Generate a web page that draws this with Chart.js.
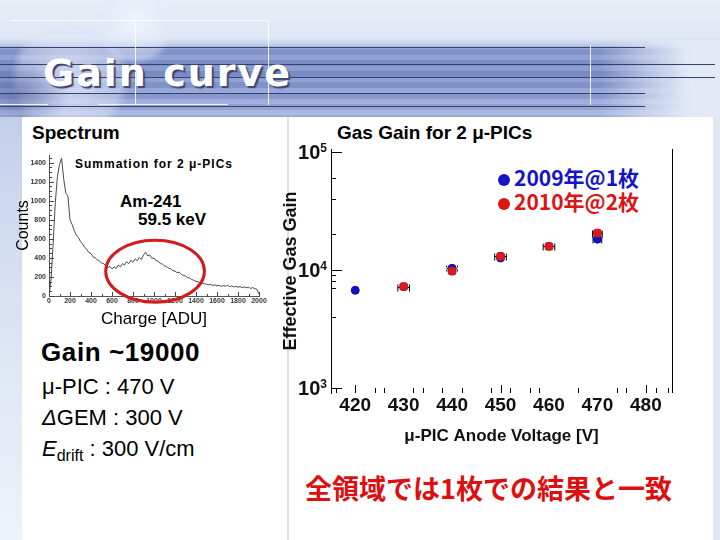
<!DOCTYPE html>
<html><head><meta charset="utf-8">
<script src="https://cdn.jsdelivr.net/npm/chart.js@4.4.1/dist/chart.umd.min.js"></script>
<style>
html,body{margin:0;padding:0;}
body{width:720px;height:540px;overflow:hidden;position:relative;background:#dbe3f3;font-family:'Liberation Sans',Arial,sans-serif;}
.abs{position:absolute;white-space:nowrap;}
.hl{position:absolute;height:1px;background:#33426f;}
.wl{position:absolute;background:rgba(255,255,255,0.85);}
</style></head><body>
<!-- background -->
<div class="abs" style="left:0;top:0;width:720px;height:117px;background:linear-gradient(180deg,#e9eef8 0px,#dfe7f5 38px,#c3cfea 44px,#8d9ed3 48px,#7e91cb 70px,#8fa1d6 95px,#a6b5df 117px);"></div>
<div class="abs" style="left:0;top:44px;width:720px;height:73px;background:repeating-linear-gradient(180deg,rgba(255,255,255,0.10) 0 5px,rgba(20,30,80,0.07) 5px 11px);"></div>
<div class="abs" style="left:600px;top:40px;width:120px;height:77px;background:linear-gradient(90deg,rgba(223,231,245,0) 0%,rgba(223,231,245,0.6) 40%,#e3eaf6 75%);"></div>
<div class="abs" style="left:10px;top:18px;width:120px;height:120px;border-radius:50%;background:radial-gradient(circle,rgba(235,240,252,0.75) 0%,rgba(220,228,248,0.45) 60%,rgba(255,255,255,0) 71%);"></div>
<div class="abs" style="left:95px;top:-15px;width:80px;height:80px;border-radius:50%;background:radial-gradient(circle,rgba(240,244,252,0.8) 0%,rgba(225,232,248,0.4) 60%,rgba(255,255,255,0) 71%);"></div>
<div class="abs" style="left:0;top:60px;width:70px;height:57px;background:radial-gradient(ellipse at 30% 60%,rgba(60,75,140,0.45),rgba(60,75,140,0) 70%);"></div>
<div class="hl" style="left:0;top:47px;width:645px;"></div>
<div class="hl" style="left:0;top:64px;width:715px;"></div>
<div class="hl" style="left:0;top:77px;width:715px;"></div>
<div class="hl" style="left:0;top:93px;width:645px;"></div>
<div class="hl" style="left:0;top:106px;width:645px;"></div>
<div class="wl" style="left:590px;top:45px;width:1px;height:60px;"></div>
<div class="wl" style="left:135px;top:20px;width:1px;height:85px;"></div>
<div class="wl" style="left:268px;top:20px;width:1px;height:85px;"></div>
<div class="wl" style="left:0;top:104px;width:48px;height:1px;"></div>
<div class="wl" style="left:98px;top:104px;width:130px;height:1px;"></div>
<div class="wl" style="left:10px;top:20px;width:258px;height:1px;"></div>
<div class="abs" style="left:0;top:117px;width:22px;height:423px;background:linear-gradient(180deg,#c3cfea 0%,#d8e1f2 40%,#eef2fa 100%);"></div>
<div class="abs" style="left:713px;top:117px;width:7px;height:423px;background:#dfe7f4;"></div>
<div class="abs" style="left:22px;top:117px;width:265px;height:423px;background:#fff;"></div>
<div class="abs" style="left:289px;top:117px;width:424px;height:423px;background:#fff;"></div>

<div class="abs" style="left:43px;top:53px;font:bold 38px 'DejaVu Sans';letter-spacing:2px;line-height:40px;color:#fff;text-shadow:2px 2px 1px #3b4770;">Gain curve</div>

<!-- left panel texts -->
<div class="abs" style="left:32px;top:122px;font:bold 19px 'Liberation Sans';line-height:22px;color:#000;">Spectrum</div>
<div class="abs" style="left:75px;top:156px;font:bold 12px 'Liberation Sans';letter-spacing:1px;line-height:16px;color:#000;">Summation for 2 μ-PICs</div>
<div class="abs" style="left:120px;top:192px;font:bold 17px 'Liberation Sans';line-height:20px;color:#000;">Am-241</div>
<div class="abs" style="left:138px;top:210px;font:bold 17px 'Liberation Sans';line-height:20px;color:#000;">59.5 keV</div>

<div class="abs" style="left:41px;top:337px;font:bold 26px 'Liberation Sans';letter-spacing:0.6px;line-height:30px;color:#000;">Gain ~19000</div>
<div class="abs" style="left:42px;top:374px;font:22px 'Liberation Sans';line-height:26px;color:#000;">μ-PIC : 470 V</div>
<div class="abs" style="left:42px;top:405px;font:22px 'Liberation Sans';line-height:26px;color:#000;"><i>Δ</i>GEM : 300 V</div>
<div class="abs" style="left:42px;top:436px;font:22px 'Liberation Sans';line-height:26px;color:#000;"><i>E</i><span style="font-size:16px;position:relative;top:5px;">drift</span> : 300 V/cm</div>

<!-- right panel texts -->
<div class="abs" style="left:337px;top:122px;font:bold 19px 'Liberation Sans';line-height:22px;color:#000;">Gas Gain for 2 μ-PICs</div>
<div id="leg" class="abs" style="left:498px;top:165px;font:bold 21px 'Noto Sans CJK JP';line-height:24px;"></div>
<div class="abs" style="left:305px;top:472px;font:bold 27px 'Noto Sans CJK JP';line-height:32px;color:#dc1010;">全領域では1枚での結果と一致</div>

<canvas id="spec" class="abs" style="left:0;top:140px;" width="285" height="195"></canvas>
<canvas id="gain" class="abs" style="left:280px;top:115px;" width="440" height="350"></canvas>

<script>
// ---------------- data ----------------
const gainVolt2009 = [420, 440, 450, 470];
const gain2009     = [6700, 10300, 12600, 18200];
const errVolt2009  = [0, 1.1, 0, 0.9];

const gainVolt2010 = [430, 440, 450, 460, 470];
const gain2010     = [7200, 9750, 13000, 15800, 20500];
const errVolt2010  = [1.2, 0, 1.2, 1.2, 1.0];

const legendLabels = ['2009年@1枚', '2010年@2枚'];
const xTickValues  = [420, 430, 440, 450, 460, 470, 480];
const xMinorTicks  = [416, 424, 426, 432, 434, 438, 442, 448, 452, 456, 458, 466, 474, 476, 482, 484.5];
const yDecadeTicks = [1000, 10000, 100000];
const yMinorTicks  = [4000, 7000, 8000, 9000, 20000, 40000, 60000];

const specCharge = [0,20,40,60,80,100,120,140,160,180,200,220,240,260,280,300,320,340,360,380,
  400,420,440,460,480,500,520,540,560,580,600,620,640,660,680,700,720,740,760,780,
  800,820,840,860,880,900,920,940,960,980,1000,1020,1040,1060,1080,1100,1120,1140,1160,1180,
  1200,1220,1240,1260,1280,1300,1320,1340,1360,1380,1400,1420,1440,1460,1480,1500,1520,1540,1560,1580,
  1600,1620,1640,1660,1680,1700,1720,1740,1760,1780,1800,1820,1840,1860,1880,1900,1920,1940,1960,1980,2000];
const specCounts = [0,180,560,980,1250,1380,1445,1230,1080,1050,800,750,690,640,615,570,545,510,490,455,
  445,410,400,380,370,345,340,318,300,310,285,305,290,325,305,340,325,360,340,375,
  355,390,370,405,385,430,460,420,430,395,400,370,365,340,335,315,310,290,285,265,
  262,245,250,228,215,210,192,190,172,165,152,150,140,135,128,125,118,122,110,118,
  105,112,100,110,102,112,98,106,95,102,92,98,88,95,86,92,80,88,76,70,20];
const specXTicks = [0,200,400,600,800,1000,1200,1400,1600,1800,2000];
const specYTicks = [0,200,400,600,800,1000,1200,1400];
const circledPeak = {charge: 1010, counts: 260, halfWidth: 470, halfHeight: 325};

// ---------------- legend (html) ----------------
const legColors = ['#1414c8', '#dc1414'];
document.getElementById('leg').innerHTML = legendLabels.map((t, i) =>
  `<div style="color:${legColors[i]};height:24px;"><span style="display:inline-block;width:12px;height:12px;border-radius:50%;background:${legColors[i]};margin-right:4px;vertical-align:0px;"></span>${t}</div>`
).join('');

Chart.defaults.font.family = "'Liberation Sans', Arial, sans-serif";

// ---------------- spectrum ----------------
const specDecor = {
  id: 'specDecor',
  afterDraw(chart) {
    const {ctx, scales: {x, y}, chartArea: a} = chart;
    ctx.save();
    ctx.strokeStyle = '#444'; ctx.lineWidth = 1;
    ctx.beginPath();
    for (let v = 0; v <= 1480; v += 50) {
      const py = Math.round(y.getPixelForValue(v)) + 0.5;
      const len = specYTicks.includes(v) ? 5 : 3;
      ctx.moveTo(a.left, py); ctx.lineTo(a.left + len, py);
    }
    for (let v = 0; v <= 2000; v += 100) {
      const px = Math.round(x.getPixelForValue(v)) + 0.5;
      const len = specXTicks.includes(v) ? 4 : 2;
      ctx.moveTo(px, a.bottom); ctx.lineTo(px, a.bottom - len);
    }
    ctx.stroke();
    // ellipse around photo peak
    const cx = x.getPixelForValue(circledPeak.charge), cy = y.getPixelForValue(circledPeak.counts);
    const rx = Math.abs(x.getPixelForValue(circledPeak.charge + circledPeak.halfWidth) - cx);
    const ry = Math.abs(y.getPixelForValue(circledPeak.counts + circledPeak.halfHeight) - cy);
    ctx.strokeStyle = '#d21c1c'; ctx.lineWidth = 3;
    ctx.beginPath(); ctx.ellipse(cx, cy, rx, ry, 0, 0, Math.PI * 2); ctx.stroke();
    ctx.restore();
  }
};

new Chart(document.getElementById('spec'), {
  type: 'line',
  data: { datasets: [{
    data: specCharge.map((c, i) => ({x: c, y: specCounts[i]})),
    borderColor: '#4a4a4a', borderWidth: 1, pointRadius: 0, tension: 0, fill: false
  }]},
  options: {
    responsive: false, animation: false, events: [],
    layout: {padding: {top: 15, right: 26, left: 0, bottom: 0}},
    plugins: {legend: {display: false}, tooltip: {enabled: false}},
    scales: {
      x: {type: 'linear', min: 0, max: 2000,
        afterBuildTicks: s => { s.ticks = specXTicks.map(v => ({value: v})); },
        afterFit: s => { s.height = 39; },
        grid: {display: false, drawTicks: false},
        border: {display: true, color: '#555', width: 1},
        ticks: {color: '#333', font: {size: 7, weight: 'bold'}, padding: 1, maxRotation: 0, autoSkip: false, callback: v => String(v)},
        title: {display: true, text: 'Charge [ADU]', color: '#000', font: {size: 17}, padding: {top: 0, bottom: 5}}},
      y: {type: 'linear', min: 0, max: 1480,
        afterBuildTicks: s => { s.ticks = specYTicks.map(v => ({value: v})); },
        afterFit: s => { s.width = 49; },
        grid: {display: false, drawTicks: false},
        border: {display: true, color: '#555', width: 1},
        ticks: {color: '#333', font: {size: 7, weight: 'bold'}, padding: 3, callback: v => String(v)},
        title: {display: true, text: 'Counts', color: '#000', font: {size: 16}, padding: {top: 14, bottom: 0}}}
    }
  },
  plugins: [specDecor]
});

// ---------------- gas gain ----------------
const gainDecor = {
  id: 'gainDecor',
  beforeDatasetsDraw(chart) {
    const {ctx, scales: {x, y}} = chart;
    ctx.save(); ctx.strokeStyle = '#000'; ctx.lineWidth = 1;
    [[gainVolt2009, gain2009, errVolt2009, true], [gainVolt2010, gain2010, errVolt2010, false]].forEach(([vx, vy, ve, dashed]) => {
      vx.forEach((v, i) => {
        if (!ve[i]) return;
        const py = Math.round(y.getPixelForValue(vy[i])) + 0.5;
        const x1 = x.getPixelForValue(v - ve[i]), x2 = x.getPixelForValue(v + ve[i]);
        ctx.setLineDash(dashed && v === 440 ? [2, 2] : []);
        ctx.beginPath();
        ctx.moveTo(x1, py); ctx.lineTo(x2, py);
        ctx.moveTo(x1, py - 3); ctx.lineTo(x1, py + 4);
        ctx.moveTo(x2, py - 3); ctx.lineTo(x2, py + 4);
        ctx.stroke();
      });
    });
    ctx.restore();
  },
  afterDraw(chart) {
    const {ctx, scales: {x, y}, chartArea: a} = chart;
    ctx.save();
    ctx.strokeStyle = '#000'; ctx.lineWidth = 1;
    ctx.beginPath();
    ctx.moveTo(Math.round(a.right) + 0.5, a.top); ctx.lineTo(Math.round(a.right) + 0.5, a.bottom);
    yDecadeTicks.forEach(v => { const py = Math.round(y.getPixelForValue(v)) + 0.5; ctx.moveTo(a.left, py); ctx.lineTo(a.left + 11, py); });
    yMinorTicks.forEach(v => { const py = Math.round(y.getPixelForValue(v)) + 0.5; ctx.moveTo(a.left, py); ctx.lineTo(a.left + 5, py); });
    [420, 450, 480].forEach(v => { const px = Math.round(x.getPixelForValue(v)) + 0.5; ctx.moveTo(px, a.bottom); ctx.lineTo(px, a.bottom - 8); });
    xMinorTicks.forEach(v => { const px = Math.round(x.getPixelForValue(v)) + 0.5; ctx.moveTo(px, a.bottom); ctx.lineTo(px, a.bottom - 5); });
    ctx.stroke();
    ctx.fillStyle = '#111'; ctx.textAlign = 'right'; ctx.textBaseline = 'middle';
    yDecadeTicks.forEach(v => {
      const py = y.getPixelForValue(v);
      const exp = String(Math.round(Math.log10(v)));
      ctx.font = "bold 12px 'Liberation Sans'";
      const sw = ctx.measureText(exp).width;
      ctx.fillText(exp, a.left - 4, py - 3);
      ctx.font = "bold 20px 'Liberation Sans'";
      ctx.fillText('10', a.left - 4 - sw, py + 2);
    });
    ctx.restore();
  }
};

new Chart(document.getElementById('gain'), {
  type: 'scatter',
  data: { datasets: [
    {label: legendLabels[1], data: gainVolt2010.map((v, i) => ({x: v, y: gain2010[i]})),
     backgroundColor: '#d41c22', borderColor: '#c01418', borderWidth: 1, pointStyle: 'rectRounded', pointRadius: 4.5, order: 0},
    {label: legendLabels[0], data: gainVolt2009.map((v, i) => ({x: v, y: gain2009[i]})),
     backgroundColor: '#1212c4', borderColor: '#0c0ca8', borderWidth: 1, pointStyle: 'circle', pointRadius: 4, order: 1}
  ]},
  options: {
    responsive: false, animation: false, events: [],
    layout: {padding: {top: 34, right: 48, left: 0, bottom: 0}},
    plugins: {legend: {display: false}, tooltip: {enabled: false}},
    scales: {
      x: {type: 'linear', min: 415, max: 485.4,
        afterBuildTicks: s => { s.ticks = xTickValues.map(v => ({value: v})); },
        afterFit: s => { s.height = 72; },
        grid: {display: false, drawTicks: false},
        border: {display: false},
        ticks: {color: '#111', font: {size: 19, weight: 'bold'}, padding: 1, maxRotation: 0, autoSkip: false},
        title: {display: true, text: 'μ-PIC Anode Voltage [V]', color: '#111', font: {size: 17, weight: 'bold'}, padding: {top: 4, bottom: 18}}},
      y: {type: 'logarithmic', min: 900, max: 106000,
        afterBuildTicks: s => { s.ticks = yDecadeTicks.map(v => ({value: v})); },
        afterFit: s => { s.width = 51; },
        grid: {display: false, drawTicks: false},
        border: {display: true, color: '#000', width: 1},
        ticks: {display: false},
        title: {display: true, text: 'Effective Gas Gain', color: '#111', font: {size: 18, weight: 'bold'}, padding: {top: 0, bottom: 0}}}
    }
  },
  plugins: [gainDecor]
});
</script>
</body></html>
